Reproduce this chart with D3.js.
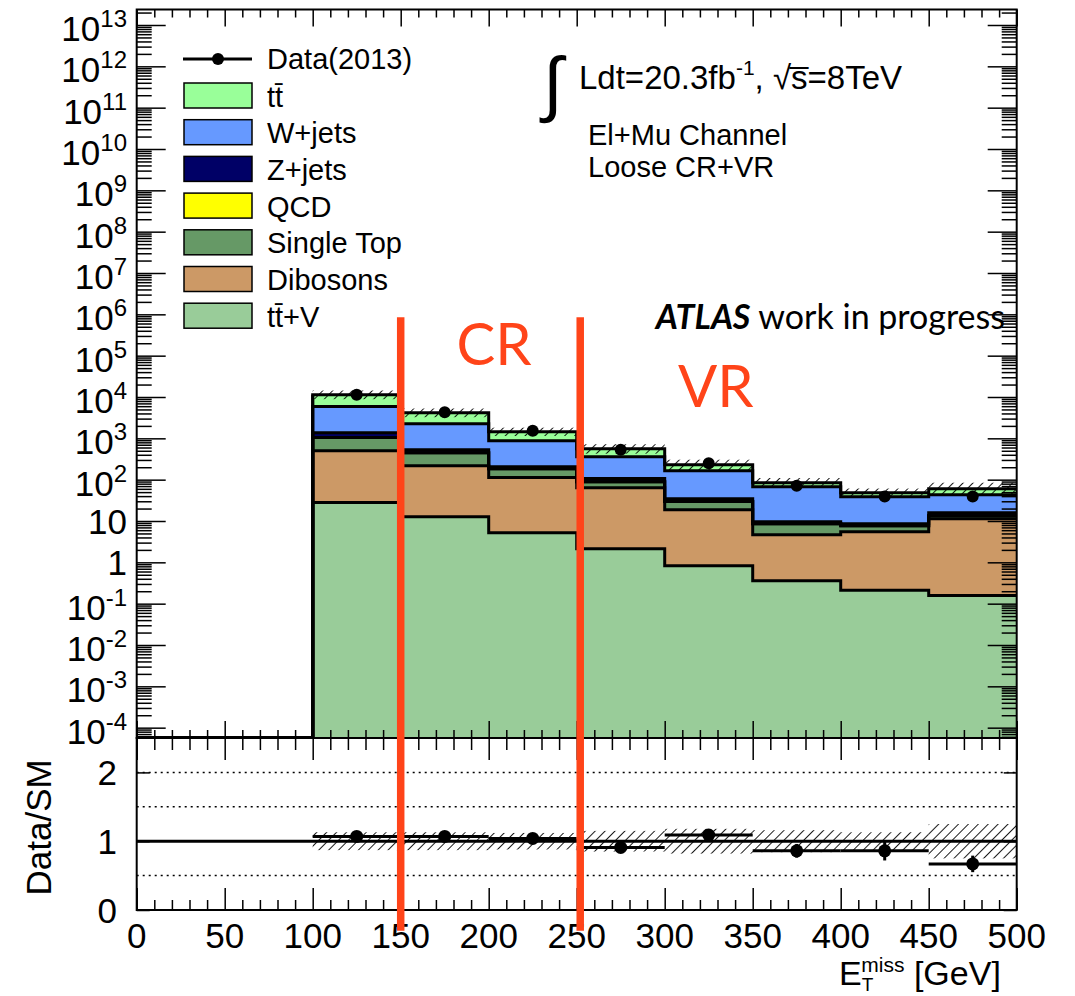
<!DOCTYPE html>
<html>
<head>
<meta charset="utf-8">
<script src="https://d3js.org/d3.v7.min.js"></script>
<title>MET stack</title>
<style>
  body { margin: 0; background: #fff; }
  text { font-family: "Liberation Sans", Arial, sans-serif; fill: #000; }
  .gill { font-family: Lato, "Open Sans", sans-serif; }
</style>
</head>
<body>
<script>
// ---- data ----
var binEdges = d3.range(0, 550, 50);           // 0..500 GeV, 10 bins
var ttV       = [0, 0, 28, 12.7, 5.2, 2.14, 0.83, 0.36, 0.21, 0.157];
var dibosons  = [0, 0, 475, 205, 107, 62, 18, 4.3, 5.3, 11.2];
var singleTop = [0, 0, 540, 232, 72, 25.5, 10.6, 3.9, 2.2, 2.1];
var qcd       = [0, 0, 0, 0, 0, 0, 0, 0, 0, 0];
var zjets     = [0, 0, 330, 82, 22, 16.5, 5.3, 1.0, 0.9, 2.4];
var wjets     = [0, 0, 4500, 1730, 670, 254, 130, 58, 30, 27.5];
var ttbar     = [0, 0, 5500, 1910, 570, 200, 66, 17, 9.7, 17];
var dataVals  = [0, 0, 11400, 4270, 1530, 530, 250, 71, 39, 39];
var mcErr     = [0, 0, 0.13, 0.13, 0.12, 0.15, 0.18, 0.16, 0.13, 0.25];   // relative
var ratioVals = [null, null, 1.07, 1.07, 1.04, 0.91, 1.09, 0.86, 0.86, 0.67];
var ratioErr  = [0, 0, 0.01, 0.02, 0.03, 0.05, 0.07, 0.1, 0.14, 0.12];
var regionLines = [150, 252];
var regionLabels = [{ t: "CR", x: 203 }, { t: "VR", x: 329 }];
var xTicks = d3.range(0, 550, 50);
var ratioTicks = [0, 1, 2];
var ratioGrid = [0.5, 1.5, 2];

var samples = [   // stacking order bottom -> top
  { name: "tt\u0304+V", vals: ttV, color: "#99cc99" },
  { name: "Dibosons", vals: dibosons, color: "#cc9966" },
  { name: "Single Top", vals: singleTop, color: "#669966" },
  { name: "QCD", vals: qcd, color: "#ffff00" },
  { name: "Z+jets", vals: zjets, color: "#000066" },
  { name: "W+jets", vals: wjets, color: "#6699ff" },
  { name: "tt\u0304", vals: ttbar, color: "#99ff99" }
];

// ---- layout ----
var width = 1075, height = 996;
var left = 136.7, right = 1016.7;
var topY = 9.5, midY = 738, botY = 910;

var svg = d3.select("body").append("svg")
  .attr("width", width).attr("height", height);
svg.append("rect").attr("width", width).attr("height", height).attr("fill", "#fff");

var defs = svg.append("defs");
defs.append("pattern").attr("id", "hatch")
  .attr("patternUnits", "userSpaceOnUse").attr("width", 7).attr("height", 7)
  .attr("patternTransform", "rotate(45)")
  .append("line").attr("x1", 0).attr("y1", 0).attr("x2", 0).attr("y2", 7)
  .attr("stroke", "#000").attr("stroke-width", 1.8);
defs.append("clipPath").attr("id", "clipTop").append("rect")
  .attr("x", left).attr("y", topY).attr("width", right - left).attr("height", midY - topY);

var x = d3.scaleLinear().domain([0, 500]).range([left, right]);
var yTop = d3.scaleLog().domain([Math.pow(10, -4.25), Math.pow(10, 13.375)]).range([midY, topY]).clamp(true);
var yRat = d3.scaleLinear().domain([0, 2.5]).range([botY, midY]);
var ymin = yTop.domain()[0];
var safe = function(v) { return v > 0 ? v : ymin; };

// cumulative stack
var cum = [];
var run = binEdges.slice(0, -1).map(function() { return 0; });
samples.forEach(function(s) {
  run = run.map(function(r, i) { return r + s.vals[i]; });
  cum.push(run.slice());
});
var total = cum[cum.length - 1];

function stepPts(vals) {
  var pts = vals.map(function(v, i) { return [binEdges[i], v]; });
  pts.push([500, vals[vals.length - 1]]);
  return pts;
}
var stepLine = d3.line().curve(d3.curveStepAfter)
  .x(function(d) { return x(d[0]); }).y(function(d) { return yTop(safe(d[1])); });
var stepArea = d3.area().curve(d3.curveStepAfter)
  .x(function(d) { return x(d[0]); }).y0(midY).y1(function(d) { return yTop(safe(d[1])); });

var up = svg.append("g").attr("clip-path", "url(#clipTop)");
// draw from top of stack down so lower layers sit in front
for (var k = cum.length - 1; k >= 0; k--) {
  up.append("path").attr("d", stepArea(stepPts(cum[k]))).attr("fill", samples[k].color);
}
for (var k = cum.length - 1; k >= 0; k--) {
  up.append("path").attr("d", stepLine(stepPts(cum[k])))
    .attr("fill", "none").attr("stroke", "#000").attr("stroke-width", 3);
}
// vertical edge where the histogram starts
up.append("line").attr("x1", x(100)).attr("x2", x(100))
  .attr("y1", midY).attr("y2", yTop(total[2])).attr("stroke", "#000").attr("stroke-width", 3);

// MC uncertainty hatch on top of the stack
binEdges.slice(0, -1).forEach(function(e, i) {
  if (total[i] <= 0) return;
  var hi = yTop(total[i] * (1 + mcErr[i])), lo = yTop(total[i] * (1 - mcErr[i]));
  up.append("rect").attr("x", x(e)).attr("width", x(e + 50) - x(e))
    .attr("y", hi - 2).attr("height", lo - hi + 4).attr("fill", "url(#hatch)");
});

// data points
binEdges.slice(0, -1).forEach(function(e, i) {
  if (dataVals[i] <= 0) return;
  up.append("circle").attr("cx", x(e + 25)).attr("cy", yTop(dataVals[i])).attr("r", 6).attr("fill", "#000");
});

// ---- ratio panel ----
var rp = svg.append("g");
ratioGrid.forEach(function(v) {
  rp.append("line").attr("x1", left).attr("x2", right).attr("y1", yRat(v)).attr("y2", yRat(v))
    .attr("stroke", "#000").attr("stroke-width", 1.5).attr("stroke-dasharray", "2,4");
});
binEdges.slice(0, -1).forEach(function(e, i) {
  if (ratioVals[i] === null) return;
  var hi = yRat(1 + mcErr[i]), lo = yRat(1 - mcErr[i]);
  rp.append("rect").attr("x", x(e)).attr("width", x(e + 50) - x(e))
    .attr("y", hi).attr("height", lo - hi).attr("fill", "url(#hatch)");
});
rp.append("line").attr("x1", left).attr("x2", right).attr("y1", yRat(1)).attr("y2", yRat(1))
  .attr("stroke", "#000").attr("stroke-width", 3);
binEdges.slice(0, -1).forEach(function(e, i) {
  if (ratioVals[i] === null) return;
  var cy = yRat(ratioVals[i]);
  rp.append("line").attr("x1", x(e)).attr("x2", x(e + 50)).attr("y1", cy).attr("y2", cy)
    .attr("stroke", "#000").attr("stroke-width", 3);
  rp.append("line").attr("x1", x(e + 25)).attr("x2", x(e + 25))
    .attr("y1", yRat(ratioVals[i] + ratioErr[i])).attr("y2", yRat(ratioVals[i] - ratioErr[i]))
    .attr("stroke", "#000").attr("stroke-width", 3);
  rp.append("circle").attr("cx", x(e + 25)).attr("cy", cy).attr("r", 6.5).attr("fill", "#000");
});

// ---- axes / frames ----
function tickAxis(gen, tx, ty) {
  svg.append("g").attr("transform", "translate(" + tx + "," + ty + ")")
    .call(gen)
    .call(function(g) {
      g.select(".domain").remove();
      g.selectAll("line").attr("stroke", "#000").attr("stroke-width", 1.5);
      g.selectAll("text").remove();
    });
}
var xMinor = d3.range(0, 510, 10).filter(function(v) { return v % 50 !== 0; });
var decades = d3.range(-4, 14);
var decadeVals = decades.map(function(n) { return Math.pow(10, n); });
var logMinor = [];
d3.range(-5, 14).forEach(function(n) {
  d3.range(2, 10).forEach(function(m) {
    var v = m * Math.pow(10, n);
    if (v > yTop.domain()[0] && v < yTop.domain()[1]) logMinor.push(v);
  });
});

// upper panel ticks
tickAxis(d3.axisTop(x).tickValues(xTicks).tickSize(-17), 0, topY);
tickAxis(d3.axisTop(x).tickValues(xMinor).tickSize(-8), 0, topY);
tickAxis(d3.axisBottom(x).tickValues(xTicks).tickSize(-17), 0, midY);
tickAxis(d3.axisBottom(x).tickValues(xMinor).tickSize(-8), 0, midY);
tickAxis(d3.axisLeft(yTop).tickValues(decadeVals).tickSize(-29), left, 0);
tickAxis(d3.axisLeft(yTop).tickValues(logMinor).tickSize(-15), left, 0);
tickAxis(d3.axisRight(yTop).tickValues(decadeVals).tickSize(-29), right, 0);
tickAxis(d3.axisRight(yTop).tickValues(logMinor).tickSize(-15), right, 0);
// ratio panel ticks
tickAxis(d3.axisTop(x).tickValues(xTicks).tickSize(-22), 0, midY);
tickAxis(d3.axisTop(x).tickValues(xMinor).tickSize(-12), 0, midY);
tickAxis(d3.axisBottom(x).tickValues(xTicks).tickSize(-22), 0, botY);
tickAxis(d3.axisBottom(x).tickValues(xMinor).tickSize(-10), 0, botY);
tickAxis(d3.axisLeft(yRat).tickValues(ratioTicks).tickSize(-13), left, 0);
tickAxis(d3.axisRight(yRat).tickValues(ratioTicks).tickSize(-13), right, 0);

svg.append("rect").attr("x", left).attr("y", topY).attr("width", right - left).attr("height", midY - topY)
  .attr("fill", "none").attr("stroke", "#000").attr("stroke-width", 2);
svg.append("rect").attr("x", left).attr("y", midY).attr("width", right - left).attr("height", botY - midY)
  .attr("fill", "none").attr("stroke", "#000").attr("stroke-width", 2);

// y labels upper panel
decades.forEach(function(n) {
  var t = svg.append("text").attr("x", 127).attr("text-anchor", "end")
    .attr("font-size", 35);
  var yy = yTop(Math.pow(10, n));
  if (n === 0) { t.attr("y", yy + 13).text("1"); return; }
  if (n === 1) { t.attr("y", yy + 13).text("10"); return; }
  t.attr("y", yy + 16);
  t.append("tspan").text("10");
  t.append("tspan").attr("font-size", 24).attr("dy", -14).text(n);
});
// ratio labels
ratioTicks.forEach(function(v) {
  svg.append("text").attr("x", 117).attr("y", yRat(v) + 13).attr("text-anchor", "end")
    .attr("font-size", 35).text(v);
});
svg.append("text").attr("transform", "translate(51," + yRat(1.2) + ") rotate(-90)")
  .attr("text-anchor", "middle").attr("font-size", 35).text("Data/SM");
// x labels
xTicks.forEach(function(v) {
  svg.append("text").attr("x", x(v)).attr("y", 948).attr("text-anchor", "middle")
    .attr("font-size", 35).text(v);
});
var xt = svg.append("text").attr("x", 839).attr("y", 985).attr("font-size", 34);
xt.append("tspan").text("E");
xt.append("tspan").attr("font-size", 19).attr("dy", 6).text("T");
xt.append("tspan").attr("font-size", 21).attr("dx", -12).attr("dy", -19).text("miss");
xt.append("tspan").attr("dy", 13).text(" [GeV]");

// ---- legend ----
var lg = svg.append("g");
lg.append("line").attr("x1", 183).attr("x2", 252).attr("y1", 59).attr("y2", 59)
  .attr("stroke", "#000").attr("stroke-width", 3);
lg.append("circle").attr("cx", 218).attr("cy", 59).attr("r", 6).attr("fill", "#000");
lg.append("text").attr("x", 267).attr("y", 69).attr("font-size", 29).text("Data(2013)");
samples.slice().reverse().forEach(function(s, i) {
  var cy = 95.5 + i * 36.7;
  lg.append("rect").attr("x", 184).attr("y", cy - 12.5).attr("width", 68).attr("height", 25)
    .attr("fill", s.color).attr("stroke", "#000").attr("stroke-width", 1.5);
  lg.append("text").attr("x", 267).attr("y", cy + 11).attr("font-size", 29).text(s.name);
});

// ---- labels ----
svg.append("text").attr("x", 543).attr("y", 108).attr("font-family", "DejaVu Serif")
  .attr("font-size", 72).text("\u222B");
var lum = svg.append("text").attr("x", 579).attr("y", 89).attr("font-size", 33);
lum.append("tspan").text("Ldt=20.3fb");
lum.append("tspan").attr("font-size", 21).attr("dy", -14).text("-1");
lum.append("tspan").attr("dy", 14).text(", \u221As\u0305=8TeV");
svg.append("text").attr("x", 588).attr("y", 145).attr("font-size", 29).text("El+Mu Channel");
svg.append("text").attr("x", 588).attr("y", 177).attr("font-size", 29).text("Loose CR+VR");

var at = svg.append("text").attr("class", "gill").attr("x", 1005).attr("y", 329)
  .attr("text-anchor", "end").attr("font-size", 34);
at.append("tspan").attr("font-weight", "bold").attr("font-style", "italic").text("ATLAS");
at.append("tspan").text(" work in progress");

// region markers
regionLines.forEach(function(v) {
  svg.append("line").attr("x1", x(v)).attr("x2", x(v))
    .attr("y1", yTop(Math.pow(10, 5.93))).attr("y2", yRat(-0.3))
    .attr("stroke", "#ff4419").attr("stroke-width", 7.5);
});
regionLabels.forEach(function(r, i) {
  svg.append("text").attr("class", "gill").attr("x", x(r.x)).attr("y", i === 0 ? 365 : 407)
    .attr("text-anchor", "middle").attr("font-size", 58)
    .style("fill", "#ff4419").text(r.t);
});
</script>
</body>
</html>
